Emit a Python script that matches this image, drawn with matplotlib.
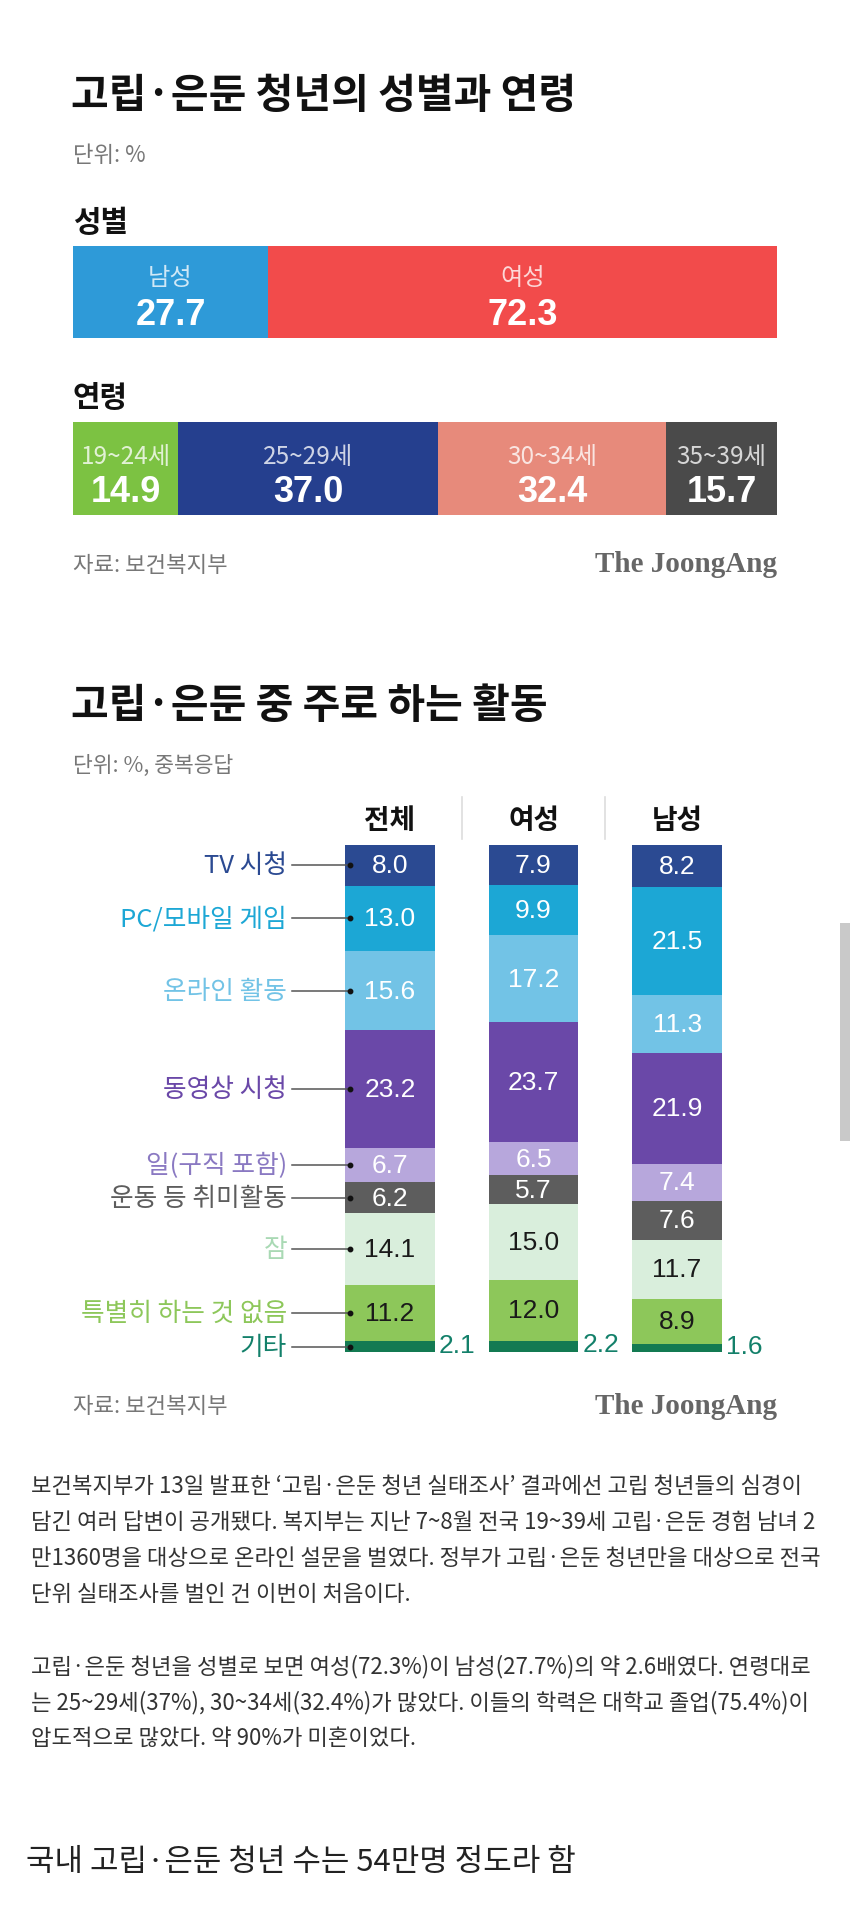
import matplotlib
matplotlib.use('Agg')
import matplotlib.pyplot as plt
import matplotlib.transforms as mtransforms
from matplotlib.patches import Rectangle
import numpy as np

W, H = 850, 1915
DPI = 100
KR = ['Noto Sans CJK KR', 'DejaVu Sans']
NUM = ['Liberation Sans', 'DejaVu Sans']
SERIF = ['Liberation Serif', 'DejaVu Serif']
plt.rcParams['font.family'] = KR

# ---------------- data ----------------
title1 = '고립·은둔 청년의 성별과 연령'
title2 = '고립·은둔 중 주로 하는 활동'
gender_labels = ['남성', '여성']
gender_values = [27.7, 72.3]
gender_colors = ['#2e9ad8', '#f24b4b']

age_labels = ['19~24세', '25~29세', '30~34세', '35~39세']
age_values = [14.9, 37.0, 32.4, 15.7]
age_colors = ['#7cc242', '#253f8e', '#e78a7b', '#4a4a4a']

groups = ['전체', '여성', '남성']
activities = ['TV 시청', 'PC/모바일 게임', '온라인 활동', '동영상 시청', '일(구직 포함)',
              '운동 등 취미활동', '잠', '특별히 하는 것 없음', '기타']
total_vals = [8.0, 13.0, 15.6, 23.2, 6.7, 6.2, 14.1, 11.2, 2.1]
female_vals = [7.9, 9.9, 17.2, 23.7, 6.5, 5.7, 15.0, 12.0, 2.2]
male_vals = [8.2, 21.5, 11.3, 21.9, 7.4, 7.6, 11.7, 8.9, 1.6]
act_colors = ['#2b4a92', '#1ca7d5', '#72c3e6', '#6a48a8', '#b7a7dc',
              '#5d5d5d', '#d9eedc', '#8dc75a', '#137a52']
act_label_colors = ['#2b4a92', '#1ca7d5', '#72c3e6', '#6a48a8', '#8a79c2',
                    '#5d5d5d', '#a9d9b4', '#8dc75a', '#13806a']
act_value_colors = ['white', 'white', 'white', 'white', 'white',
                    'white', '#1a1a1a', '#1a1a1a', '#13806a']

source = '자료: 보건복지부'
brand = 'The JoongAng'
para1 = ['보건복지부가 13일 발표한 ‘고립·은둔 청년 실태조사’ 결과에선 고립 청년들의 심경이',
         '담긴 여러 답변이 공개됐다. 복지부는 지난 7~8월 전국 19~39세 고립·은둔 경험 남녀 2',
         '만1360명을 대상으로 온라인 설문을 벌였다. 정부가 고립·은둔 청년만을 대상으로 전국',
         '단위 실태조사를 벌인 건 이번이 처음이다.']
para2 = ['고립·은둔 청년을 성별로 보면 여성(72.3%)이 남성(27.7%)의 약 2.6배였다. 연령대로',
         '는 25~29세(37%), 30~34세(32.4%)가 많았다. 이들의 학력은 대학교 졸업(75.4%)이',
         '압도적으로 많았다. 약 90%가 미혼이었다.']
last_line = '국내 고립·은둔 청년 수는 54만명 정도라 함'

# ---------------- figure ----------------
fig = plt.figure(figsize=(W / DPI, H / DPI), dpi=DPI)
fig.patch.set_facecolor('white')
canvas = fig.add_axes([0, 0, 1, 1])
canvas.set_xlim(0, W)
canvas.set_ylim(H, 0)
canvas.axis('off')


def px_axes(x0, y0, x1, y1):
    ax = fig.add_axes([x0 / W, 1 - y1 / H, (x1 - x0) / W, (y1 - y0) / H])
    ax.axis('off')
    return ax


def ctext(x, y, s, **kw):
    canvas.text(x, y, s, **kw)


# ---- section 1 ----
ctext(71, 108, title1, fontsize=29.5, fontweight='heavy', color='#111111', va='baseline')
ctext(73, 162, '단위: %', fontsize=16, color='#777777', va='baseline')
ctext(73, 232, '성별', fontsize=21.5, fontweight='bold', color='#111111', va='baseline')
ctext(73, 407, '연령', fontsize=21.5, fontweight='bold', color='#111111', va='baseline')


def hbar(ax_rect, labels, values, colors, lab_base, val_base):
    ax = px_axes(*ax_rect)
    left = np.concatenate([[0], np.cumsum(values)[:-1]])
    ax.barh(0, values, left=left, color=colors, height=1.0, edgecolor='none')
    ax.set_xlim(0, sum(values))
    ax.set_ylim(-0.5, 0.5)
    tr = mtransforms.blended_transform_factory(ax.transData, canvas.transData)
    for l, v, lab in zip(left, values, labels):
        cx = l + v / 2
        ax.text(cx, lab_base, lab, transform=tr, ha='center', va='baseline',
                fontsize=17.5, color='white', alpha=0.78, clip_on=False)
        ax.text(cx, val_base, f'{v:.1f}', transform=tr, ha='center', va='baseline',
                fontsize=26, fontweight='bold', family=NUM, color='white', clip_on=False)
    return ax


hbar((73, 247, 777, 339), gender_labels, gender_values, gender_colors, 285, 325)
hbar((73, 423, 777, 516), age_labels, age_values, age_colors, 464, 502)

ctext(73, 572, source, fontsize=16, color='#777777', va='baseline')
ctext(777, 572, brand, fontsize=21, fontweight='bold', family=SERIF, color='#666666',
      ha='right', va='baseline')

# ---- section 2 ----
ctext(71, 718, title2, fontsize=29.5, fontweight='heavy', color='#111111', va='baseline')
ctext(73, 772, '단위: %, 중복응답', fontsize=15.5, color='#777777', va='baseline')

ax2 = px_axes(345, 846, 722, 1353)
series = [total_vals, female_vals, male_vals]
xpos = np.arange(len(groups))
bw = 0.625
tot = max(sum(s) for s in series)
for i, vals in enumerate(series):
    bottoms = np.concatenate([[0], np.cumsum(vals)[:-1]])
    ax2.bar(np.full(len(vals), xpos[i]), vals, bottom=bottoms, width=bw,
            color=act_colors, edgecolor='none')
    for j, (b, v) in enumerate(zip(bottoms, vals)):
        if j == len(vals) - 1:
            ax2.text(xpos[i] + bw / 2 + 0.03, b + v / 2 - 0.4, f'{v:.1f}', ha='left',
                     va='center', fontsize=19, family=NUM, color=act_value_colors[j],
                     clip_on=False)
        else:
            ax2.text(xpos[i], b + v / 2, f'{v:.1f}', ha='center', va='center',
                     fontsize=19, family=NUM, color=act_value_colors[j], clip_on=False)
ax2.set_xlim(-0.3125, 2.3125)
ax2.set_ylim(tot, 0)

# headers
trh = mtransforms.blended_transform_factory(ax2.transData, canvas.transData)
for i, g in enumerate(groups):
    ax2.text(xpos[i], 829, g, transform=trh, ha='center', va='baseline', fontsize=20,
             fontweight='bold', color='#111111', clip_on=False)
for xs in [0.5, 1.5]:
    ax2.plot([xs, xs], [798, 840], transform=trh, color='#dddddd', lw=1.2, clip_on=False)

# left labels with leader lines (positioned at 전체 segment centres)
trl = mtransforms.blended_transform_factory(canvas.transData, ax2.transData)
tb = np.concatenate([[0], np.cumsum(total_vals)[:-1]])
for j, (b, v) in enumerate(zip(tb, total_vals)):
    cy = b + v / 2
    ax2.text(287, cy, activities[j], transform=trl, ha='right', va='center',
             fontsize=18.5, color=act_label_colors[j], clip_on=False)
    ax2.plot([292, 349], [cy, cy], transform=trl, color='#555555', lw=1.1, clip_on=False)
    ax2.plot([350], [cy], transform=trl, marker='o', ms=3.2, color='#111111', clip_on=False)

ctext(73, 1413, source, fontsize=16, color='#777777', va='baseline')
ctext(777, 1414, brand, fontsize=21, fontweight='bold', family=SERIF, color='#666666',
      ha='right', va='baseline')

# scrollbar-like gray strip at right edge
canvas.add_patch(Rectangle((840, 924), 10, 218, color='#c9c9c9', lw=0))

# ---- body text ----
for k, line in enumerate(para1):
    ctext(31, 1493 + k * 36, line, fontsize=16, color='#333333', va='baseline')
for k, line in enumerate(para2):
    ctext(31, 1673 + k * 36, line, fontsize=16, color='#333333', va='baseline')
ctext(26, 1871, last_line, fontsize=22.3, color='#222222', va='baseline')

fig.savefig('out.png', dpi=DPI, facecolor='white')
